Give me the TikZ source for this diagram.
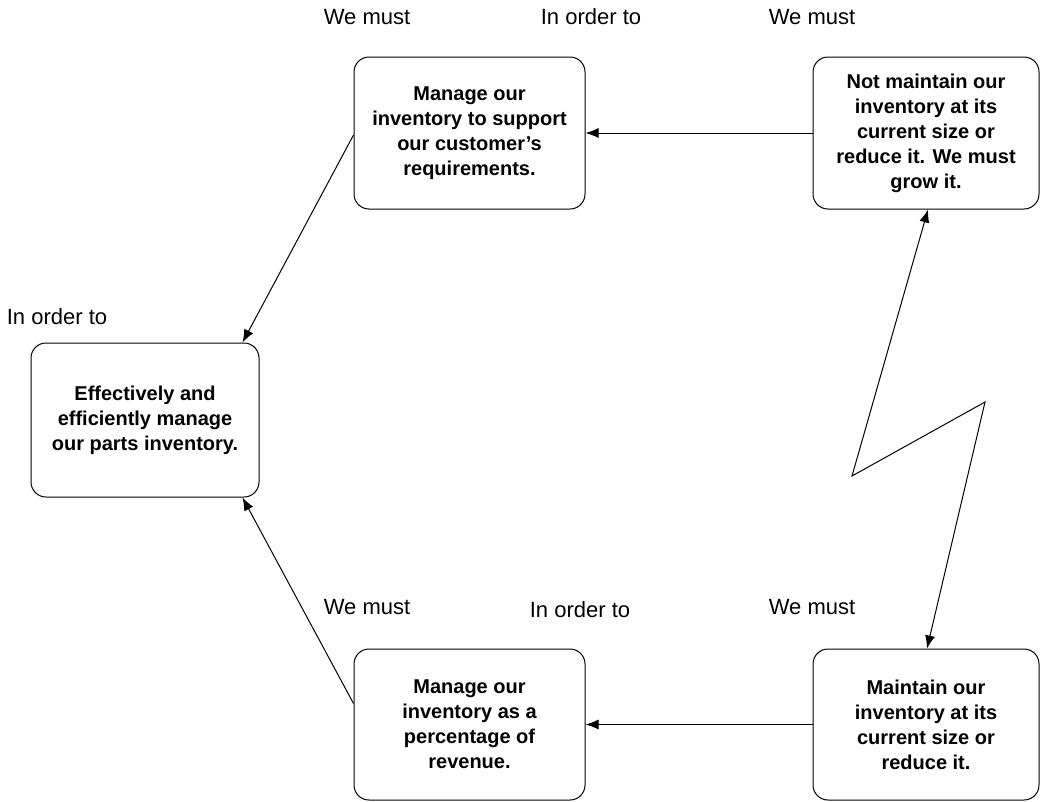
\documentclass[tikz,border=0pt]{standalone}
\usepackage{fontspec}
\setmainfont{Liberation Sans}
\usepackage{tikz}
\usetikzlibrary{arrows.meta, calc}

\begin{document}
\begin{tikzpicture}[
	x=1pt, y=-1pt,
	box/.style={draw, line width=1pt, rounded corners=15pt, align=center,
		font=\fontsize{20}{25}\selectfont\bfseries, inner sep=0pt},
	tag/.style={font=\fontsize{22}{24}\selectfont},
	arrow/.style={line width=1pt, -{Latex[length=13pt,width=10pt]}}
	]
	
	\useasboundingbox (0, 0) rectangle (1040, 801);
	
	% Boxes
	\node [box, minimum width=228pt, minimum height=154pt] (goal) at (145, 420)
		{Effectively and\\efficiently manage\\our parts inventory.};
	\node [box, minimum width=231pt, minimum height=152pt] (needA) at (469.5, 133)
		{Manage our\\inventory to support\\our customer's\\requirements.};
	\node [box, minimum width=231pt, minimum height=151pt] (needB) at (469.5, 724.5)
		{Manage our\\inventory as a\\percentage of\\revenue.};
	\node [box, minimum width=226pt, minimum height=152pt] (preA) at (926, 133)
		{Not maintain our\\inventory at its\\current size or\\reduce it. We must\\grow it.};
	\node [box, minimum width=226pt, minimum height=151pt] (preB) at (926, 724.5)
		{Maintain our\\inventory at its\\current size or\\reduce it.};
	
	% Labels
	\node [tag] (mustA) at (367, 17) {We must};
	\node [tag] (orderA) at (591, 17) {In order to};
	\node [tag] (mustB) at (812, 17) {We must};
	\node [tag] (orderG) at (57, 317) {In order to};
	\node [tag] (mustC) at (367, 607) {We must};
	\node [tag] (orderB) at (580, 610) {In order to};
	\node [tag] (mustD) at (812, 607) {We must};
	
	% Arrows
	\draw [arrow] (preA.west) -- (needA.east);
	\draw [arrow] (preB.west) -- (needB.east);
	\draw [arrow] ([yshift=-2pt]needA.west) -- ([xshift=-17pt]goal.north east);
	\draw [arrow] ([yshift=21pt]needB.west) -- ([xshift=-17pt]goal.south east);
	
	% Conflict
	\coordinate (zA) at (852, 476);
	\coordinate (zB) at (985, 402);
	\draw [arrow, {Latex[length=13pt,width=10pt]}-{Latex[length=13pt,width=10pt]}]
		([xshift=2pt]preA.south) -- (zA) -- (zB) -- ([xshift=1pt]preB.north);
\end{tikzpicture}
\end{document}
